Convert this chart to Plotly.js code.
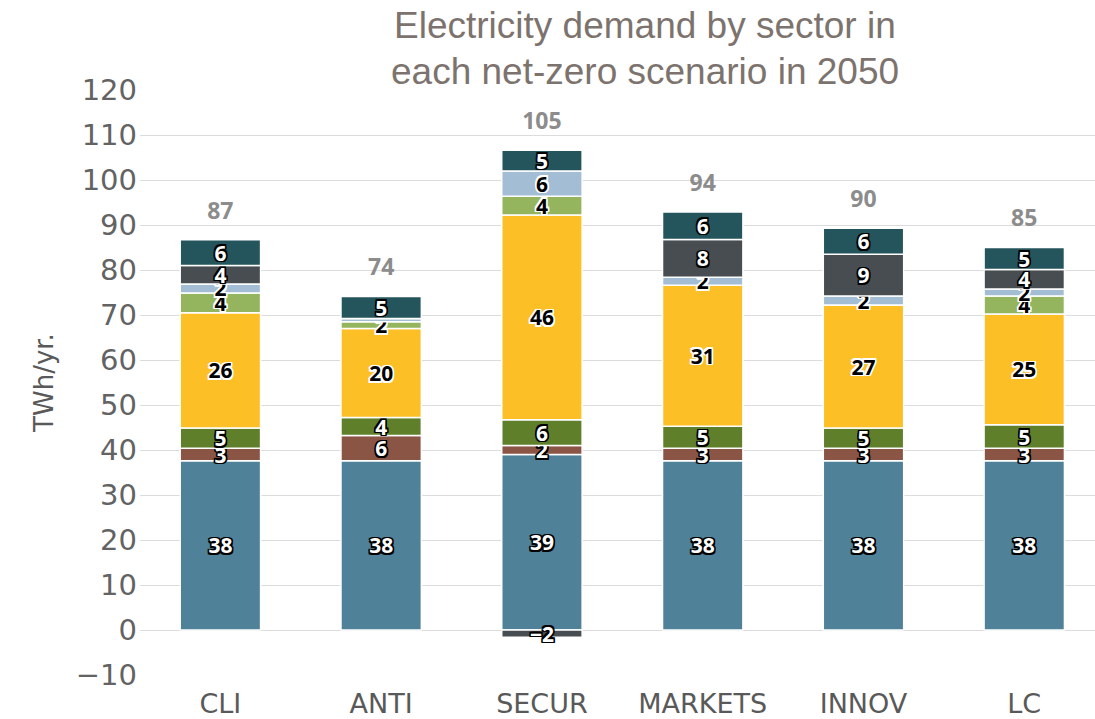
<!DOCTYPE html>
<html>
<head>
<meta charset="utf-8">
<script src="https://cdn.plot.ly/plotly-3.0.1.min.js"></script>
<style>
  html, body { margin: 0; padding: 0; background: #fff; }
  #chart { width: 1095px; height: 719px; }
</style>
</head>
<body>
<div id="chart"></div>
<script>
// scenarios
const scenarios = ['CLI', 'ANTI', 'SECUR', 'MARKETS', 'INNOV', 'LC'];

// segment values (TWh/yr.), bottom to top
const base       = [37.6, 37.6, 39.0, 37.6, 37.6, 37.6];
const brown      = [2.8, 5.6, 2.0, 2.8, 2.8, 2.8];
const olive      = [4.5, 4.0, 5.7, 4.9, 4.5, 5.2];
const yellow     = [25.6, 19.8, 45.5, 31.3, 27.3, 24.6];
const lightGreen = [4.4, 1.5, 4.2, 0, 0, 4.0];
const lightBlue  = [2.0, 0.7, 5.6, 1.8, 2.0, 1.6];
const darkGrey   = [4.1, 0, -1.6, 8.4, 9.3, 4.3];
const teal       = [5.7, 4.9, 4.6, 6.1, 5.8, 4.9];

// totals printed above each bar
const totals = [87, 74, 105, 94, 90, 85];

const titleLines = ['Electricity demand by sector in', 'each net-zero scenario in 2050'];

const series = [
  {name: 'Series 1', values: base,       color: '#4f8199', dark: true},
  {name: 'Series 2', values: brown,      color: '#8b5546', dark: true},
  {name: 'Series 3', values: olive,      color: '#5f7f2b', dark: true},
  {name: 'Series 4', values: yellow,     color: '#fdbf26', dark: false},
  {name: 'Series 5', values: lightGreen, color: '#94b55d', dark: false},
  {name: 'Series 6', values: lightBlue,  color: '#a3bed4', dark: false},
  {name: 'Series 7', values: darkGrey,   color: '#474d50', dark: true},
  {name: 'Series 8', values: teal,       color: '#24545c', dark: true}
];

// outline round the digits, like the reference's label glow
const halo = c => {
  const o = [];
  for (const dx of [-1.5, 0, 1.5]) for (const dy of [-1.5, 0, 1.5]) {
    if (dx || dy) o.push(`${dx}px ${dy}px 0 ${c}`);
  }
  return o.join(', ');
};

const data = series.map(s => ({
  type: 'bar',
  name: s.name,
  x: scenarios,
  y: s.values,
  text: s.values.map(v => Math.abs(v) >= 1.5 ? String(Math.round(v)).replace('-', '\u2212') : ''),
  texttemplate: '%{text}',
  textposition: 'inside',
  insidetextanchor: 'middle',
  textangle: 0,
  constraintext: 'none',
  textfont: {
    family: 'Open Sans, sans-serif',
    size: 21,
    weight: 700,
    color: s.dark ? '#ffffff' : '#000000',
    shadow: halo(s.dark ? '#000000' : '#ffffff')
  },
  marker: {color: s.color, line: {color: '#ffffff', width: 1.5}},
  hoverinfo: 'skip',
  showlegend: false
}));

// positive stack height, used to put the total labels above each bar
const tops = scenarios.map((_, i) =>
  series.reduce((acc, s) => acc + Math.max(s.values[i], 0), 0));

data.push({
  type: 'scatter',
  mode: 'text',
  x: scenarios,
  y: tops.map(t => t + 6.0),
  text: totals.map(String),
  textfont: {family: 'Open Sans, sans-serif', size: 23, weight: 700, color: '#8c8c8c'},
  hoverinfo: 'skip',
  showlegend: false,
  cliponaxis: false
});

const titleFont = {family: 'Liberation Sans, Arial, sans-serif', size: 37, color: '#7d736e'};

const layout = {
  width: 1095,
  height: 719,
  margin: {l: 140, r: 0, t: 90, b: 44},
  paper_bgcolor: '#ffffff',
  plot_bgcolor: '#ffffff',
  barmode: 'relative',
  bargap: 0.5,
  annotations: [
    {text: titleLines[0], xref: 'paper', yref: 'paper', x: 0.529, y: 1.111,
     xanchor: 'center', yanchor: 'middle', showarrow: false, font: titleFont},
    {text: titleLines[1], xref: 'paper', yref: 'paper', x: 0.529, y: 1.031,
     xanchor: 'center', yanchor: 'middle', showarrow: false, font: titleFont}
  ],
  xaxis: {
    range: [-0.5, 5.44],
    showgrid: false,
    zeroline: false,
    showline: false,
    ticks: '',
    ticklabelstandoff: 10,
    tickfont: {family: 'DejaVu Sans, sans-serif', size: 27, color: '#595959'}
  },
  yaxis: {
    range: [-10, 120],
    dtick: 10,
    tick0: 0,
    showgrid: true,
    gridcolor: '#dcdcdc',
    gridwidth: 1,
    zeroline: false,
    showline: false,
    ticks: '',
    ticklabelstandoff: 2,
    tickfont: {family: 'DejaVu Sans, sans-serif', size: 29, color: '#636363'},
    title: {
      text: 'TWh/yr.',
      font: {family: 'DejaVu Sans, sans-serif', size: 26, color: '#595959'},
      standoff: 14
    }
  }
};

Plotly.newPlot('chart', data, layout, {displayModeBar: false, staticPlot: true});
</script>
</body>
</html>
